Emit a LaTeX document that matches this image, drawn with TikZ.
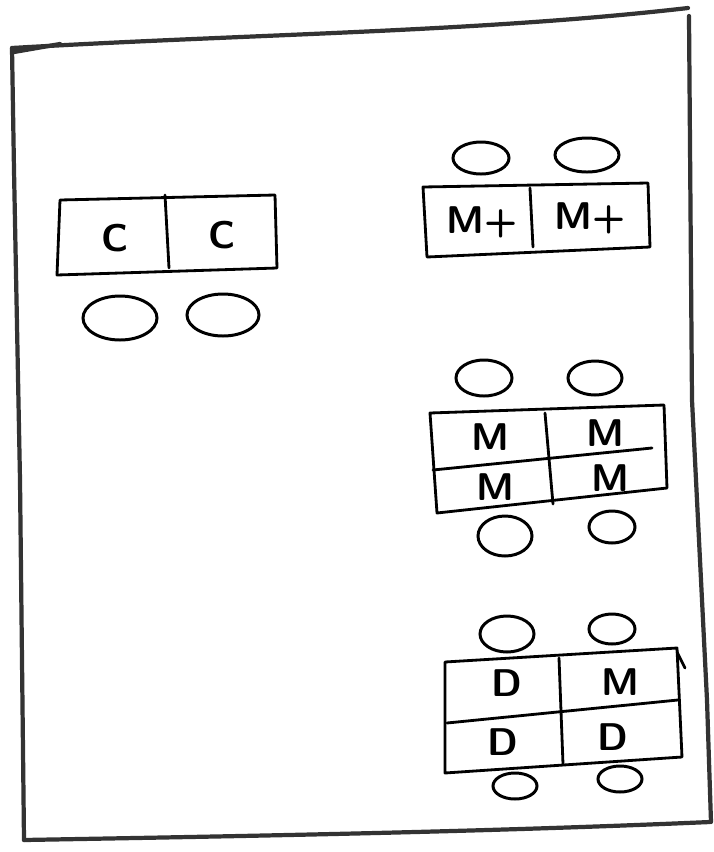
\documentclass[tikz,border=0pt]{standalone}
\tikzset{
  frameline/.style={line width=2.4pt,black!80,line cap=round,line join=round},
  tableline/.style={line width=1.6pt,line cap=round,line join=round},
  seatline/.style={line width=1.7pt},
  letter/.style={font=\sffamily\bfseries\fontsize{22}{24}\selectfont,inner sep=0pt},
}
% one chair, drawn as a flat oval
\newcommand{\seat}[4]{%
  \draw[seatline] (#1,#2) ellipse[x radius=#3*0.2mm,y radius=#4*0.2mm];
}
% a table outline: four corners, clockwise from top left
\newcommand{\tableshape}[4]{%
  \draw[tableline] (#1) -- (#2) -- (#3) -- (#4) -- cycle;
}

\begin{document}
\begin{tikzpicture}[x=0.2mm,y=-0.2mm]
  \useasboundingbox (0,0) rectangle (714,852);
  % room outline
  \draw[frameline] (12,48) .. controls (250,34) and (480,32) .. (688,8);
  \draw[frameline] (12,48) -- (14,170) -- (20,480) -- (24,840);
  \draw[frameline] (24,840) .. controls (250,836) and (480,832) .. (710,822);
  \draw[frameline] (689,16) -- (692,400) -- (700,560) -- (707,700) -- (711,822);
  \draw[frameline] (14,52) -- (60,44);

  % table for two, left
  \tableshape{60,200}{275,195}{277,268}{57,275}
  \draw[tableline] (165,195) -- (169,268);
  \node[letter] (c1) at (115,238) {C};
  \node[letter] (c2) at (222,235) {C};
  \seat{120}{318}{37}{22}
  \seat{223}{315}{36}{21}

  % table for two, top right
  \tableshape{423,187}{648,183}{650,247}{427,257}
  \draw[tableline] (530,188) -- (533,247);
  \node[letter] (mp1) at (482,222) {M+};
  \node[letter] (mp2) at (590,218) {M+};
  \seat{481}{158}{28}{16}
  \seat{587}{155}{32}{17}

  % table for four, middle right
  \tableshape{430,413}{664,405}{667,488}{437,513}
  \draw[tableline] (433,470) -- (652,448);
  \draw[tableline] (545,413) -- (553,504);
  \node[letter] (m1) at (490,437) {M};
  \node[letter] (m2) at (605,433) {M};
  \node[letter] (m3) at (495,487) {M};
  \node[letter] (m4) at (610,478) {M};
  \seat{484}{378}{28}{18}
  \seat{595}{378}{27}{17}
  \seat{505}{536}{27}{20}
  \seat{612}{527}{23}{16}

  % table for four, bottom right
  \tableshape{445,662}{677,648}{682,757}{445,773}
  \draw[tableline] (447,723) -- (678,700);
  \draw[tableline] (559,658) -- (563,764);
  \draw[tableline] (677,652) -- (685,668);
  \node[letter] (d1) at (507,683) {D};
  \node[letter] (m5) at (620,682) {M};
  \node[letter] (d2) at (503,742) {D};
  \node[letter] (d3) at (613,737) {D};
  \seat{507}{634}{27}{18}
  \seat{612}{629}{23}{15}
  \seat{515}{786}{22}{13}
  \seat{620}{779}{22}{13}
\end{tikzpicture}
\end{document}
